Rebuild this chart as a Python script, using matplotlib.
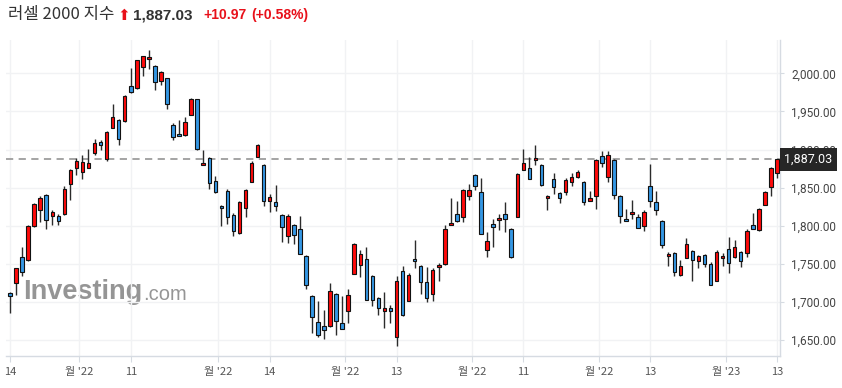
import matplotlib
matplotlib.use("Agg")
import matplotlib.pyplot as plt
import numpy as np
import pandas as pd

W, H = 842, 388

# trading days, Jul 14 2022 -> Jan 13 2023 (US market holidays removed)
holidays = ["2022-09-05", "2022-11-24", "2022-12-26", "2023-01-02"]
dates = pd.bdate_range("2022-07-14", "2023-01-13").drop(pd.to_datetime(holidays))

opens = [1711.8, 1725.0, 1758.8, 1755.3, 1799.1, 1821.0, 1839.9, 1812.3, 1813.2, 1814.9,
         1855.3, 1875.4, 1871.0, 1876.3, 1896.1, 1909.6, 1887.7, 1928.9, 1938.2, 1936.8,
         1982.9, 1980.3, 2008.8, 2018.4, 2009.2, 1989.5, 1993.4, 1931.6, 1920.6, 1919.3,
         1945.6, 1965.8, 1880.3, 1889.5, 1859.2, 1826.3, 1845.2, 1814.0, 1790.4, 1823.7,
         1857.9, 1890.8, 1880.3, 1832.9, 1831.6, 1814.5, 1786.8, 1801.3, 1796.1, 1760.5,
         1707.9, 1673.7, 1668.4, 1668.4, 1710.5, 1672.4, 1688.2, 1736.8, 1748.7, 1756.6,
         1734.2, 1705.3, 1688.2, 1692.5, 1654.0, 1741.2, 1701.3, 1756.6, 1747.4, 1726.8,
         1710.5, 1745.6, 1749.6, 1801.3, 1815.8, 1811.8, 1839.5, 1866.2, 1844.7, 1768.4,
         1801.8, 1807.9, 1815.8, 1796.1, 1811.4, 1873.2, 1876.3, 1886.8, 1879.8, 1836.4,
         1861.8, 1843.4, 1844.3, 1857.9, 1864.0, 1857.9, 1832.9, 1839.5, 1892.1, 1864.5,
         1886.8, 1839.5, 1809.2, 1815.4, 1811.8, 1800.0, 1852.6, 1831.1, 1806.6, 1760.5,
         1764.5, 1735.1, 1757.9, 1767.1, 1753.9, 1761.8, 1750.0, 1727.6, 1757.5, 1769.3,
         1759.2, 1765.4, 1764.5, 1801.3, 1794.3, 1827.6, 1851.3, 1868.9]
highs = [1712.5, 1744.3, 1771.9, 1800.9, 1830.3, 1839.0, 1842.1, 1820.2, 1814.9, 1852.2,
         1875.0, 1889.0, 1893.4, 1901.3, 1913.6, 1912.3, 1924.1, 1959.2, 1939.5, 1971.1,
         2006.6, 2018.0, 2023.2, 2031.1, 2010.5, 2003.1, 1994.3, 1935.1, 1938.6, 1942.1,
         1967.1, 1966.7, 1899.1, 1890.4, 1865.8, 1827.2, 1847.8, 1816.2, 1832.9, 1848.2,
         1885.1, 1907.0, 1881.1, 1841.2, 1853.1, 1815.8, 1814.9, 1802.6, 1813.2, 1761.4,
         1708.8, 1701.8, 1689.5, 1725.0, 1711.4, 1707.9, 1717.1, 1776.8, 1768.4, 1772.4,
         1735.1, 1706.6, 1713.2, 1696.1, 1734.2, 1747.4, 1738.2, 1781.6, 1748.2, 1745.6,
         1744.3, 1751.3, 1801.3, 1836.8, 1832.9, 1848.2, 1855.3, 1868.4, 1862.3, 1792.5,
         1809.2, 1814.9, 1831.6, 1797.4, 1869.3, 1900.4, 1890.4, 1906.6, 1880.7, 1840.4,
         1869.3, 1844.3, 1862.7, 1869.7, 1873.7, 1858.8, 1846.0, 1887.7, 1898.2, 1898.7,
         1887.7, 1840.4, 1822.4, 1834.2, 1815.4, 1821.0, 1881.6, 1846.0, 1807.5, 1766.2,
         1766.2, 1755.3, 1784.2, 1768.0, 1761.4, 1762.7, 1753.1, 1768.4, 1764.5, 1785.5,
         1781.6, 1767.1, 1795.6, 1817.1, 1822.8, 1845.2, 1876.8, 1888.0]
lows = [1685.1, 1709.2, 1734.6, 1754.4, 1798.2, 1804.8, 1796.1, 1800.4, 1801.3, 1814.0,
        1834.2, 1867.1, 1860.9, 1875.9, 1892.5, 1900.0, 1885.0, 1928.5, 1906.6, 1936.0,
        1973.7, 1979.8, 1996.5, 2005.3, 1977.6, 1984.2, 1953.5, 1912.3, 1917.5, 1918.0,
        1944.7, 1899.1, 1879.4, 1848.7, 1843.0, 1800.0, 1802.6, 1786.8, 1788.6, 1811.4,
        1857.0, 1890.4, 1826.3, 1818.4, 1819.7, 1778.9, 1777.6, 1776.3, 1762.7, 1716.7,
        1659.2, 1653.5, 1650.9, 1667.5, 1656.6, 1664.0, 1671.9, 1736.4, 1732.5, 1702.2,
        1694.3, 1682.9, 1665.8, 1672.8, 1642.5, 1681.6, 1700.9, 1744.3, 1710.5, 1699.6,
        1701.3, 1728.1, 1749.1, 1800.4, 1804.8, 1804.8, 1833.8, 1846.9, 1788.6, 1758.8,
        1771.9, 1794.7, 1792.1, 1757.9, 1811.0, 1872.8, 1860.9, 1879.4, 1851.8, 1821.1,
        1842.1, 1830.3, 1840.8, 1852.2, 1862.3, 1827.2, 1832.5, 1821.9, 1877.6, 1857.9,
        1835.5, 1804.0, 1806.1, 1809.2, 1796.5, 1793.4, 1824.1, 1813.6, 1771.1, 1747.4,
        1734.2, 1734.2, 1757.5, 1727.6, 1744.3, 1745.6, 1721.9, 1727.2, 1747.4, 1738.2,
        1758.3, 1745.6, 1758.8, 1795.2, 1793.4, 1827.2, 1839.0, 1863.2]
closes = [1707.5, 1744.3, 1739.9, 1800.0, 1828.1, 1836.8, 1807.9, 1818.4, 1806.6, 1848.7,
          1873.7, 1885.5, 1884.2, 1882.9, 1909.2, 1906.6, 1922.4, 1942.1, 1914.0, 1970.2,
          1975.4, 2017.1, 2022.4, 2021.0, 1988.2, 2001.3, 1959.2, 1916.7, 1918.0, 1936.0,
          1965.8, 1900.9, 1882.9, 1856.1, 1844.3, 1823.7, 1811.0, 1793.0, 1831.6, 1847.4,
          1882.9, 1906.6, 1832.9, 1838.2, 1826.3, 1798.7, 1813.2, 1788.2, 1763.2, 1722.4,
          1680.3, 1656.1, 1663.2, 1714.9, 1675.0, 1664.9, 1709.2, 1776.3, 1763.2, 1702.6,
          1702.6, 1692.1, 1692.5, 1688.2, 1728.1, 1682.5, 1735.5, 1753.5, 1726.3, 1704.8,
          1742.1, 1748.7, 1796.1, 1803.9, 1806.1, 1847.4, 1846.9, 1852.2, 1789.5, 1780.3,
          1798.7, 1810.5, 1809.2, 1759.6, 1868.4, 1882.9, 1861.4, 1889.5, 1853.9, 1839.5,
          1850.4, 1836.4, 1860.5, 1863.6, 1870.2, 1831.1, 1836.8, 1886.8, 1882.9, 1893.4,
          1840.4, 1813.2, 1806.6, 1818.4, 1796.9, 1818.4, 1832.9, 1821.1, 1775.4, 1763.2,
          1739.5, 1747.4, 1776.3, 1755.3, 1760.1, 1750.0, 1722.4, 1765.8, 1760.5, 1751.3,
          1771.9, 1753.9, 1793.0, 1796.1, 1822.1, 1844.3, 1875.9, 1887.03]

title = "러셀 2000 지수"
last_close = 1887.03
change = 10.97
change_pct = 0.58

day_ticks = ["2022-07-14", "2022-08-11", "2022-09-14", "2022-10-13",
             "2022-11-11", "2022-12-13", "2023-01-13"]
day_labels = ["14", "11", "14", "13", "11", "13", "13"]
month_labels = ["월 '22", "월 '22", "월 '22", "월 '22", "월 '22", "월 '23"]

UP = "#ff0a0a"
DOWN = "#3497e4"
KR = ["Noto Sans CJK KR", "DejaVu Sans"]

o = np.array(opens)
h = np.array(highs)
l = np.array(lows)
c = np.array(closes)
x = np.arange(len(c))
up = c >= o

fig = plt.figure(figsize=(W / 100, H / 100), dpi=100)
ax = fig.add_axes([6 / W, 1 - 356 / H, (780 - 6) / W, (356 - 40) / H])

# wicks then bodies
ax.vlines(x, l, h, color="#2b2b2b", lw=1.0, zorder=3)
body_lo = np.minimum(o, c)
body_h = np.maximum(np.abs(c - o), 1.3)
ax.bar(x, body_h, bottom=body_lo, width=0.58,
       color=np.where(up, UP, DOWN), edgecolor="#111111", linewidth=0.8, zorder=4)

ax.axhline(last_close, color="#9d9d9d", lw=1.3, ls=(0, (4, 3)), zorder=2)

ax.set_xlim(-0.66, len(c) - 0.5)
ax.set_ylim(1629.2, 2043.7)

# x ticks: day marks on a trading day, month marks half a bar before the 1st session
day_pos = [dates.get_loc(pd.Timestamp(d)) for d in day_ticks]
month_pos = [i - 0.5 for i in range(1, len(dates)) if dates[i].month != dates[i - 1].month]
pos = day_pos + month_pos
labs = day_labels + month_labels
order = np.argsort(pos)
ax.set_xticks([pos[k] for k in order])
ax.set_xticklabels([labs[k] for k in order], family=KR, fontsize=8, color="#555555")

yt = np.arange(1650, 2001, 50)
ax.set_yticks(yt)
ax.set_yticklabels([f"{v:,.2f}" for v in yt], family="Roboto", fontsize=8.5, color="#444444")
ax.yaxis.tick_right()

ax.grid(True, color="#f1f2f4", lw=1.0, zorder=0)
ax.tick_params(axis="x", length=4, color="#d6dbe2", pad=4)
ax.tick_params(axis="y", length=3, color="#d6dbe2", pad=5)
for s in ["top", "left"]:
    ax.spines[s].set_visible(False)
for s in ["bottom", "right"]:
    ax.spines[s].set_color("#d6dbe2")
    ax.spines[s].set_linewidth(1.0)

# last price tag on the axis (sits over the 1,900.00 label, as in the source)
ax.annotate(f"{last_close:,.2f}", xy=(1.0, last_close), xycoords=ax.get_yaxis_transform(),
            xytext=(3.2, 0), textcoords="offset points", ha="left", va="center",
            family="Roboto", fontsize=9, color="white", zorder=6, annotation_clip=False,
            bbox=dict(boxstyle="square,pad=0.38", facecolor="#262626", edgecolor="none"))

# watermark
wm = ax.text(23 / W, 1 - 299 / H, "Investing", transform=fig.transFigure,
             family="Liberation Sans", weight="bold", fontsize=19.5, color="#8a8a8a",
             alpha=0.9, va="baseline", zorder=0.5)
ax.annotate(".com", xy=(1, 0), xycoords=wm, xytext=(0.5, 3.3), textcoords="offset points",
            family="Liberation Sans", fontsize=14.5, color="#8a8a8a", alpha=0.9,
            ha="left", va="baseline", zorder=0.5)

# header
ty = 1 - 15 / H
fig.text(8 / W, ty, title, family=KR, fontsize=12, color="#333333", va="center")
fig.text(117 / W, ty, "⬆", family="DejaVu Sans", fontsize=11, color="#e8101a", va="center")
fig.text(133 / W, ty, f"{last_close:,.2f}", family="Liberation Sans", weight="bold",
         fontsize=11, color="#333333", va="center")
fig.text(203 / W, ty, f"+{change:.2f}", family="Liberation Sans", weight="bold",
         fontsize=10, color="#e8101a", va="center")
fig.text(251 / W, ty, f"(+{change_pct:.2f}%)", family="Liberation Sans", weight="bold",
         fontsize=10, color="#e8101a", va="center")

fig.savefig("out.png", dpi=100)
